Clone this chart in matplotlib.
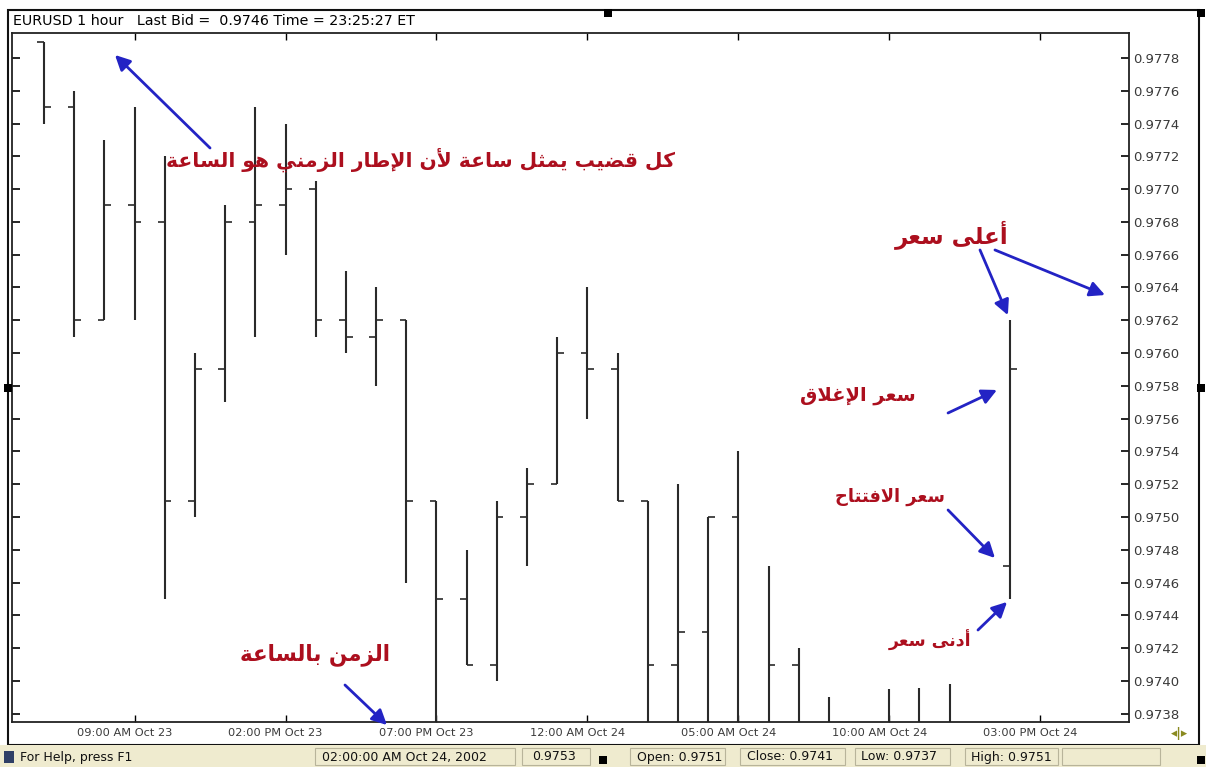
import numpy as np
import pandas as pd
import matplotlib
matplotlib.use("Agg")
import matplotlib.pyplot as plt
import matplotlib.dates as mdates
from matplotlib.ticker import MultipleLocator, FormatStrFormatter
from matplotlib.patches import Rectangle
from matplotlib.transforms import ScaledTranslation

# hourly EURUSD bars, 06:00 Oct 23 .. 14:00 Oct 24 (nan = bar off the chart)
times = pd.date_range("2002-10-23 06:00", periods=33, freq="h")
opens = [0.9779, 0.9775, 0.9762, 0.9769, 0.9768, 0.9751, 0.9759, 0.9768, 0.9769, 0.9770,
         0.9762, 0.9761, 0.9762, 0.9751, 0.9745, 0.9741, 0.9750, 0.9752, 0.9760, 0.9759,
         0.9751, 0.9741, 0.9743, 0.9750, 0.9737, 0.9741, 0.9737, np.nan, 0.9737, 0.9736,
         0.9737, np.nan, 0.9747]
highs = [0.9779, 0.9776, 0.9773, 0.9775, 0.9772, 0.9760, 0.9769, 0.9775, 0.9774, 0.97705,
         0.9765, 0.9764, 0.9762, 0.9751, 0.9748, 0.9751, 0.9753, 0.9761, 0.9764, 0.9760,
         0.9751, 0.9752, 0.9750, 0.9754, 0.9747, 0.9742, 0.9739, np.nan, 0.97395, 0.97396,
         0.97398, np.nan, 0.9762]
lows = [0.9774, 0.9761, 0.9762, 0.9762, 0.9745, 0.9750, 0.9757, 0.9761, 0.9766, 0.9761,
        0.9760, 0.9758, 0.9746, 0.9737, 0.9741, 0.9740, 0.9747, 0.9752, 0.9756, 0.9751,
        0.9737, 0.9737, 0.9737, 0.9736, 0.9737, 0.9736, 0.9735, np.nan, 0.9735, 0.9735,
        0.9735, np.nan, 0.9745]
closes = [0.9775, 0.9762, 0.9769, 0.9768, 0.9751, 0.9759, 0.9768, 0.9769, 0.9770, 0.9762,
          0.9761, 0.9762, 0.9751, 0.9745, 0.9741, 0.9750, 0.9752, 0.9760, 0.9759, 0.9751,
          0.9741, 0.9743, 0.9750, 0.9737, 0.9741, 0.9737, 0.9736, np.nan, 0.9736, 0.9737,
          0.9736, np.nan, 0.9759]

tick_times = pd.date_range("2002-10-23 09:00", periods=7, freq="5h")

header = "EURUSD 1 hour   Last Bid =  0.9746 Time = 23:25:27 ET"
status = ["For Help, press F1", "02:00:00 AM Oct 24, 2002", "0.9753",
          "Open: 0.9751", "Close: 0.9741", "Low: 0.9737", "High: 0.9751"]

# annotation texts (Arabic)
txt_bar = "كل قضيب يمثل ساعة لأن الإطار الزمني هو الساعة"
txt_high = "أعلى سعر"
txt_close = "سعر الإغلاق"
txt_open = "سعر الافتتاح"
txt_low = "أدنى سعر"
txt_time = "الزمن بالساعة"

# --- minimal Arabic shaping (matplotlib has no bidi / joining) ---
FORMS = {
    'ا': (0xFE8D, 0xFE8E), 'أ': (0xFE83, 0xFE84), 'إ': (0xFE87, 0xFE88),
    'ب': (0xFE8F, 0xFE90, 0xFE91, 0xFE92), 'ة': (0xFE93, 0xFE94),
    'ت': (0xFE95, 0xFE96, 0xFE97, 0xFE98), 'ث': (0xFE99, 0xFE9A, 0xFE9B, 0xFE9C),
    'ح': (0xFEA1, 0xFEA2, 0xFEA3, 0xFEA4), 'د': (0xFEA9, 0xFEAA),
    'ر': (0xFEAD, 0xFEAE), 'ز': (0xFEAF, 0xFEB0),
    'س': (0xFEB1, 0xFEB2, 0xFEB3, 0xFEB4), 'ض': (0xFEBD, 0xFEBE, 0xFEBF, 0xFEC0),
    'ط': (0xFEC1, 0xFEC2, 0xFEC3, 0xFEC4), 'ع': (0xFEC9, 0xFECA, 0xFECB, 0xFECC),
    'غ': (0xFECD, 0xFECE, 0xFECF, 0xFED0), 'ف': (0xFED1, 0xFED2, 0xFED3, 0xFED4),
    'ق': (0xFED5, 0xFED6, 0xFED7, 0xFED8), 'ك': (0xFED9, 0xFEDA, 0xFEDB, 0xFEDC),
    'ل': (0xFEDD, 0xFEDE, 0xFEDF, 0xFEE0), 'م': (0xFEE1, 0xFEE2, 0xFEE3, 0xFEE4),
    'ن': (0xFEE5, 0xFEE6, 0xFEE7, 0xFEE8), 'ه': (0xFEE9, 0xFEEA, 0xFEEB, 0xFEEC),
    'و': (0xFEED, 0xFEEE), 'ى': (0xFEEF, 0xFEF0),
    'ي': (0xFEF1, 0xFEF2, 0xFEF3, 0xFEF4),
}
LAM_ALEF = {'ا': (0xFEFB, 0xFEFC), 'أ': (0xFEF7, 0xFEF8), 'إ': (0xFEF9, 0xFEFA)}


def shape(text):
    units = []
    i = 0
    while i < len(text):
        c = text[i]
        if c == 'ل' and i + 1 < len(text) and text[i + 1] in LAM_ALEF:
            units.append(LAM_ALEF[text[i + 1]])
            i += 2
        else:
            units.append(FORMS.get(c, c))
            i += 1
    out = []
    for j, u in enumerate(units):
        if isinstance(u, str):
            out.append(u)
            continue
        prev = units[j - 1] if j > 0 else None
        nxt = units[j + 1] if j + 1 < len(units) else None
        jp = isinstance(prev, tuple) and len(prev) == 4
        jn = len(u) == 4 and isinstance(nxt, tuple)
        out.append(chr(u[{(0, 0): 0, (1, 0): 1, (0, 1): 2, (1, 1): 3}[(jp, jn)]]))
    return ''.join(reversed(out))


W, H = 1206, 767
fig = plt.figure(figsize=(W / 100, H / 100), dpi=100)
ax = fig.add_axes([12 / W, 1 - 722 / H, (1129 - 12) / W, (722 - 33) / H])

x = mdates.date2num(times)
hw = 0.22 / 24
bar_col = "#2a2a2a"
ax.vlines(x, lows, highs, color=bar_col, lw=1.5)
ax.hlines(opens, x - hw, x, color=bar_col, lw=1.2)
ax.hlines(closes, x, x + hw, color=bar_col, lw=1.2)

ax.set_xlim(x[0] - 1.06 / 24, x[0] + 35.94 / 24)
ax.set_ylim(0.97375, 0.977952)

ax.yaxis.set_major_locator(MultipleLocator(0.0002))
ax.yaxis.set_major_formatter(FormatStrFormatter("%.4f"))
ax.set_xticks(mdates.date2num(tick_times))
ax.set_xticklabels([t.strftime("%I:%M %p %b %d") for t in tick_times])
ax.tick_params(axis="y", direction="in", left=True, right=True, labelleft=False,
               labelright=True, length=6, width=1.2, pad=3, labelsize=9.5,
               labelcolor="#3a3a3a")
ax.tick_params(axis="x", direction="in", top=True, bottom=True, length=5, width=1,
               pad=4, labelsize=8.2, labelcolor="#3a3a3a")
shift = ScaledTranslation(-0.1, 0, fig.dpi_scale_trans)
for lab in ax.get_xticklabels():
    lab.set_transform(lab.get_transform() + shift)
for s in ax.spines.values():
    s.set_linewidth(1.3)
    s.set_color("#222222")

# annotations
red = "#AC0F1E"
blue = "#2323C4"
tfont = dict(color=red, family="DejaVu Sans", fontweight="bold", ha="center",
             va="center", transform=ax.transAxes)
ax.text(0.366, 0.816, shape(txt_bar), fontsize=14.6, **tfont)
ax.text(0.8415, 0.707, shape(txt_high), fontsize=16.5, **tfont)
ax.text(0.757, 0.4746, shape(txt_close), fontsize=14, **tfont)
ax.text(0.786, 0.3266, shape(txt_open), fontsize=12.8, **tfont)
ax.text(0.822, 0.119, shape(txt_low), fontsize=12.5, **tfont)
ax.text(0.2713, 0.0972, shape(txt_time), fontsize=15.5, **tfont)

arr = dict(arrowstyle="-|>,head_length=0.9,head_width=0.45", color=blue, lw=2,
           shrinkA=0, shrinkB=0)
arrows = [((0.0922, 0.9681), (0.1773, 0.8331)),
          ((0.9785, 0.6197), (0.8800, 0.6851)),
          ((0.8818, 0.4819), (0.8380, 0.4485)),
          ((0.8800, 0.2380), (0.8380, 0.3077)),
          ((0.3357, -0.0044), (0.2981, 0.0537))]
for head, tail in arrows:
    ax.annotate("", xy=head, xytext=tail, xycoords="axes fraction",
                textcoords="axes fraction", arrowprops=arr, annotation_clip=False)
ax.annotate("", xy=(x[-1], highs[-1]), xytext=(0.8666, 0.6851), xycoords="data",
            textcoords="axes fraction", arrowprops=dict(arr, shrinkB=4))
ax.annotate("", xy=(x[-1], lows[-1]), xytext=(0.8648, 0.1335), xycoords="data",
            textcoords="axes fraction", arrowprops=dict(arr, shrinkB=3))

# window chrome: outer frame, header, status bar, handles
fig.add_artist(Rectangle((8 / W, 1 - 745 / H), (1199 - 8) / W, (745 - 10) / H,
                         transform=fig.transFigure, fill=False, lw=1.5, ec="#111111"))
fig.text(13 / W, 1 - 21 / H, header, fontsize=10.3, va="center", ha="left")
fig.add_artist(Rectangle((0, 0), 1, 22 / H, transform=fig.transFigure,
                         fc="#EFEBCF", ec="none"))
panels = [(315, 515), (522, 590), (630, 725), (740, 845), (855, 950),
          (965, 1058), (1062, 1160)]
for a, b in panels:
    fig.add_artist(Rectangle((a / W, 2 / H), (b - a) / W, 17 / H,
                             transform=fig.transFigure, fill=False, lw=0.8,
                             ec="#B8B49A"))
status_x = [20, 322, 532, 637, 747, 861, 971]
for sx, st in zip(status_x, status):
    fig.text(sx / W, 10 / H, st, fontsize=9, va="center", ha="left", color="#111111")
fig.add_artist(Rectangle((4 / W, 4 / H), 10 / W, 12 / H, transform=fig.transFigure,
                         fc="#2F3F66", ec="none"))
fig.text(1180 / W, 1 - 733 / H, "◂|▸", fontsize=9, ha="center", va="center",
         color="#8A8A20", fontweight="bold")
for hx, hy in [(608, 13), (1201, 13), (8, 388), (1201, 388), (603, 760), (1201, 760)]:
    fig.add_artist(Rectangle(((hx - 4) / W, 1 - (hy + 4) / H), 8 / W, 8 / H,
                             transform=fig.transFigure, fc="black", ec="none"))

fig.savefig("out.png", dpi=100)
